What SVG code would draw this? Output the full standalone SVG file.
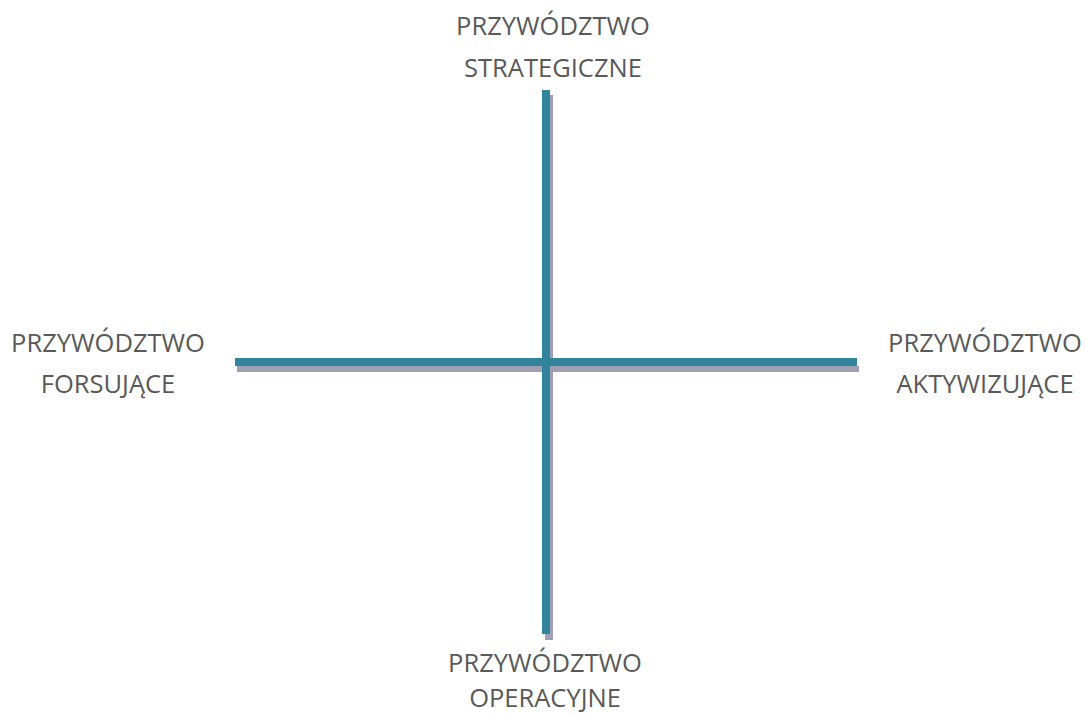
<svg xmlns="http://www.w3.org/2000/svg" width="1085" height="715" viewBox="0 0 1085 715">
<style>
.lbl{font-family:"Open Sans",sans-serif;font-size:25.5px;fill:#595959;text-anchor:middle}
.sh{fill:#9fa0b4}
.ax{fill:#31849b}
</style>
<rect width="1085" height="715" fill="#ffffff"/>
<g id="connectors">
<rect class="sh" x="545" y="95" width="8" height="545"/>
<rect class="sh" x="237" y="366" width="622" height="6"/>
<rect class="ax" x="235" y="358" width="622" height="8"/>
<rect class="ax" x="542" y="90" width="8" height="544"/>
</g>
<g id="top"><text class="lbl" x="553" y="35">PRZYWÓDZTWO</text><text class="lbl" x="553" y="77">STRATEGICZNE</text></g>
<g id="left"><text class="lbl" x="108" y="352">PRZYWÓDZTWO</text><text class="lbl" x="108" y="393">FORSUJĄCE</text></g>
<g id="right"><text class="lbl" x="985" y="352">PRZYWÓDZTWO</text><text class="lbl" x="985" y="393">AKTYWIZUJĄCE</text></g>
<g id="bottom"><text class="lbl" x="545" y="672">PRZYWÓDZTWO</text><text class="lbl" x="545" y="707">OPERACYJNE</text></g>
</svg>
